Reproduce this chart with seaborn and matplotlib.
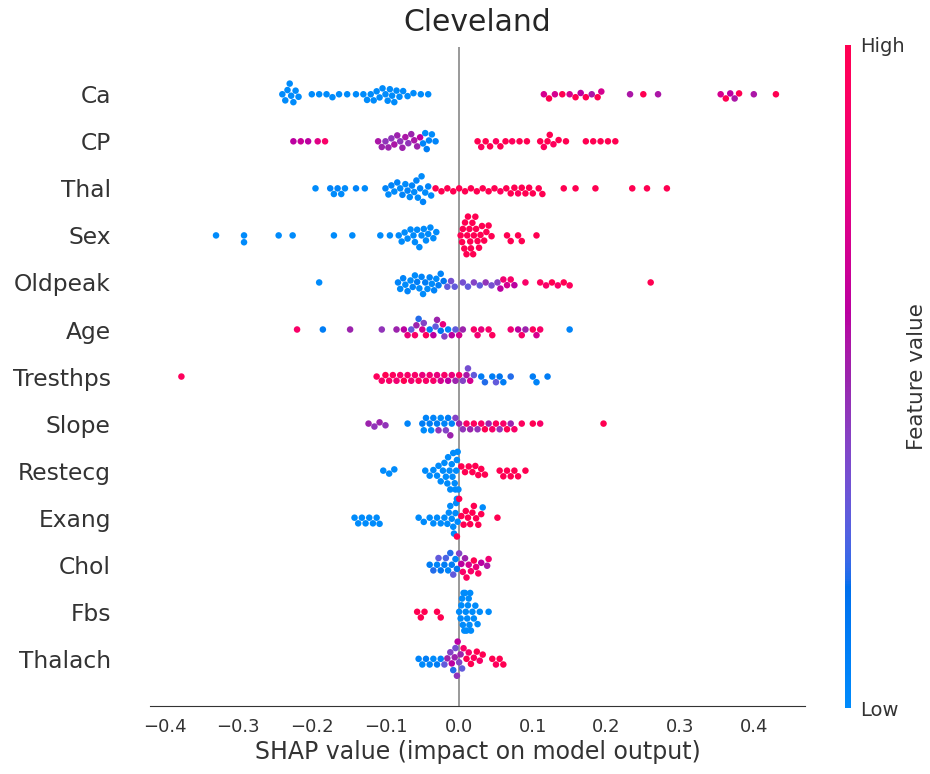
import warnings
warnings.filterwarnings("ignore")
import numpy as np
import pandas as pd
import matplotlib
matplotlib.use("Agg")
import matplotlib.pyplot as plt
import matplotlib.cm as cm
from matplotlib.colors import LinearSegmentedColormap, Normalize
import seaborn as sns

# ---------------- data: (SHAP value, normalised feature value) ----------------
features = ["Ca", "CP", "Thal", "Sex", "Oldpeak", "Age", "Tresthps", "Slope",
            "Restecg", "Exang", "Chol", "Fbs", "Thalach"]

ca = [(-0.240, 0.0), (-0.236, 0.0), (-0.233, 0.0), (-0.230, 0.0), (-0.228, 0.0), (-0.225, 0.0),
      (-0.222, 0.0), (-0.218, 0.0), (-0.200, 0.0), (-0.190, 0.0), (-0.180, 0.0), (-0.172, 0.0),
      (-0.163, 0.0), (-0.152, 0.0), (-0.140, 0.0), (-0.130, 0.0), (-0.125, 0.0), (-0.120, 0.0),
      (-0.116, 0.0), (-0.112, 0.0), (-0.108, 0.0), (-0.104, 0.0), (-0.100, 0.0), (-0.097, 0.0),
      (-0.094, 0.0), (-0.091, 0.0), (-0.088, 0.0), (-0.085, 0.0), (-0.081, 0.0), (-0.076, 0.0),
      (-0.070, 0.0), (-0.062, 0.0), (-0.052, 0.0), (-0.042, 0.0),
      (0.115, 0.7), (0.122, 1.0), (0.130, 0.7), (0.140, 1.0), (0.150, 0.7), (0.158, 1.0),
      (0.165, 0.6), (0.172, 1.0), (0.180, 0.55), (0.188, 1.0), (0.193, 0.7), (0.232, 0.55),
      (0.250, 1.0), (0.270, 0.55), (0.355, 0.7), (0.362, 1.0), (0.368, 0.6), (0.374, 0.55),
      (0.380, 1.0), (0.400, 0.55), (0.430, 1.0)]

cp = [(-0.225, 0.6), (-0.215, 0.65), (-0.205, 0.6), (-0.192, 0.75), (-0.182, 0.9),
      (-0.110, 0.55), (-0.105, 0.5), (-0.100, 0.45), (-0.096, 0.5), (-0.092, 0.45), (-0.088, 0.55),
      (-0.084, 0.5), (-0.080, 0.45), (-0.077, 0.5), (-0.073, 0.55), (-0.069, 0.45), (-0.065, 0.5),
      (-0.061, 0.55), (-0.057, 0.5), (-0.053, 0.6), (-0.049, 0.05), (-0.046, 0.0), (-0.044, 0.1),
      (-0.041, 0.05), (-0.037, 0.0), (-0.032, 0.05),
      (0.025, 1.0), (0.030, 0.95), (0.036, 1.0), (0.042, 1.0), (0.050, 0.95), (0.056, 1.0),
      (0.063, 1.0), (0.072, 0.95), (0.082, 1.0), (0.092, 1.0), (0.110, 1.0), (0.115, 0.95),
      (0.120, 1.0), (0.123, 1.0), (0.128, 0.95), (0.135, 1.0), (0.145, 1.0), (0.172, 1.0),
      (0.182, 1.0), (0.192, 1.0), (0.202, 1.0), (0.212, 1.0)]

thal = [(-0.195, 0.0), (-0.175, 0.05), (-0.170, 0.0), (-0.165, 0.05), (-0.160, 0.0), (-0.155, 0.0),
        (-0.140, 0.05), (-0.128, 0.0), (-0.100, 0.05), (-0.096, 0.0), (-0.092, 0.05), (-0.088, 0.0),
        (-0.084, 0.05), (-0.080, 0.0), (-0.077, 0.05), (-0.073, 0.0), (-0.070, 0.05), (-0.067, 0.0),
        (-0.064, 0.05), (-0.061, 0.0), (-0.058, 0.05), (-0.056, 0.0), (-0.053, 0.05), (-0.051, 0.0),
        (-0.049, 0.05), (-0.046, 0.0), (-0.042, 0.05), (-0.038, 0.0),
        (-0.032, 1.0), (-0.024, 1.0), (-0.016, 1.0), (-0.008, 1.0), (0.000, 1.0), (0.008, 1.0),
        (0.016, 1.0), (0.024, 1.0), (0.032, 1.0), (0.040, 1.0), (0.048, 1.0), (0.056, 0.95),
        (0.064, 1.0), (0.070, 1.0), (0.075, 1.0), (0.080, 0.95), (0.085, 1.0), (0.090, 1.0),
        (0.095, 1.0), (0.100, 1.0), (0.108, 1.0), (0.113, 1.0), (0.142, 1.0), (0.158, 1.0),
        (0.185, 1.0), (0.235, 1.0), (0.255, 1.0), (0.282, 1.0)]

sex = [(-0.330, 0.0), (-0.292, 0.0), (-0.292, 0.0), (-0.245, 0.0), (-0.226, 0.0), (-0.170, 0.0),
       (-0.145, 0.0), (-0.107, 0.0), (-0.094, 0.0), (-0.082, 0.0), (-0.078, 0.0), (-0.074, 0.0),
       (-0.070, 0.0), (-0.066, 0.0), (-0.062, 0.0), (-0.060, 0.0), (-0.057, 0.0), (-0.054, 0.0),
       (-0.051, 0.0), (-0.048, 0.0), (-0.045, 0.0), (-0.042, 0.0), (-0.039, 0.0), (-0.035, 0.0),
       (-0.031, 0.0),
       (0.002, 1.0), (0.004, 1.0), (0.005, 1.0), (0.007, 1.0), (0.008, 1.0), (0.010, 1.0),
       (0.011, 1.0), (0.012, 1.0), (0.014, 1.0), (0.015, 1.0), (0.016, 1.0), (0.018, 1.0),
       (0.019, 1.0), (0.020, 1.0), (0.022, 1.0), (0.023, 1.0), (0.025, 1.0), (0.027, 1.0),
       (0.029, 1.0), (0.031, 1.0), (0.034, 1.0), (0.037, 1.0), (0.040, 1.0), (0.044, 1.0),
       (0.065, 1.0), (0.070, 1.0), (0.080, 1.0), (0.085, 1.0), (0.105, 1.0)]

oldpeak = [(-0.190, 0.0), (-0.083, 0.05), (-0.080, 0.0), (-0.076, 0.05), (-0.073, 0.0), (-0.070, 0.05),
           (-0.066, 0.0), (-0.063, 0.05), (-0.060, 0.0), (-0.057, 0.1), (-0.054, 0.0), (-0.051, 0.05),
           (-0.049, 0.0), (-0.046, 0.1), (-0.043, 0.0), (-0.040, 0.05), (-0.037, 0.0), (-0.034, 0.05),
           (-0.031, 0.0), (-0.028, 0.1), (-0.025, 0.05), (-0.021, 0.15), (-0.016, 0.3), (-0.011, 0.35),
           (-0.006, 0.3), (0.005, 0.35), (0.012, 0.3), (0.020, 0.4), (0.028, 0.3), (0.036, 0.45),
           (0.044, 0.35), (0.052, 0.4), (0.056, 0.6), (0.060, 0.85), (0.065, 0.7), (0.070, 0.9),
           (0.075, 0.6), (0.090, 0.9), (0.110, 0.95), (0.118, 0.9), (0.126, 1.0), (0.134, 0.9),
           (0.142, 1.0), (0.150, 0.95), (0.260, 1.0)]

age = [(-0.220, 0.9), (-0.185, 0.1), (-0.148, 0.5), (-0.105, 0.45), (-0.085, 0.5), (-0.075, 0.6),
       (-0.070, 0.8), (-0.065, 0.3), (-0.060, 0.9), (-0.058, 0.5), (-0.055, 0.2), (-0.050, 0.7),
       (-0.048, 0.4), (-0.045, 0.95), (-0.040, 0.1), (-0.035, 0.6), (-0.032, 0.3), (-0.030, 0.5),
       (-0.025, 0.15), (-0.022, 0.8), (-0.020, 0.4), (-0.015, 0.05), (-0.010, 0.6), (-0.005, 0.3),
       (0.000, 0.7), (0.005, 0.5), (0.020, 0.9), (0.025, 0.85), (0.030, 0.8), (0.040, 0.9),
       (0.045, 0.95), (0.070, 0.85), (0.080, 0.6), (0.085, 0.9), (0.090, 0.5), (0.100, 0.95),
       (0.105, 0.7), (0.110, 0.9), (0.150, 0.05)]

tresthps = [(-0.377, 0.95), (-0.112, 0.95), (-0.105, 0.9), (-0.100, 1.0), (-0.095, 0.9), (-0.090, 0.95),
            (-0.085, 0.85), (-0.080, 0.9), (-0.075, 1.0), (-0.070, 0.9), (-0.065, 0.85), (-0.060, 0.9),
            (-0.055, 0.95), (-0.050, 0.8), (-0.045, 0.9), (-0.040, 0.85), (-0.035, 0.9), (-0.030, 0.8),
            (-0.025, 0.7), (-0.020, 0.9), (-0.015, 0.6), (-0.010, 0.8), (-0.005, 0.5), (0.000, 0.9),
            (0.005, 0.4), (0.010, 0.55), (0.012, 0.35), (0.015, 0.7), (0.020, 0.3), (0.030, 0.1),
            (0.035, 0.2), (0.045, 0.1), (0.050, 0.3), (0.055, 0.15), (0.060, 0.1), (0.070, 0.2),
            (0.100, 0.1), (0.105, 0.05), (0.120, 0.1)]

slope = [(-0.123, 0.5), (-0.115, 0.45), (-0.108, 0.5), (-0.100, 0.45), (-0.070, 0.05), (-0.050, 0.1),
         (-0.048, 0.0), (-0.045, 0.05), (-0.040, 0.1), (-0.038, 0.0), (-0.035, 0.05), (-0.030, 0.1),
         (-0.028, 0.45), (-0.025, 0.0), (-0.020, 0.05), (-0.018, 0.4), (-0.015, 0.1), (-0.012, 0.5),
         (-0.010, 0.05), (-0.005, 0.4), (0.000, 0.5), (0.005, 0.45), (0.010, 0.9), (0.015, 0.5),
         (0.020, 0.95), (0.025, 0.45), (0.030, 0.9), (0.035, 1.0), (0.040, 0.5), (0.045, 0.9),
         (0.050, 0.95), (0.055, 0.45), (0.060, 0.9), (0.065, 1.0), (0.070, 0.5), (0.075, 0.9),
         (0.085, 0.95), (0.100, 1.0), (0.110, 0.9), (0.196, 1.0)]

restecg = [(-0.103, 0.0), (-0.095, 0.0), (-0.088, 0.0), (-0.046, 0.0), (-0.040, 0.0), (-0.035, 0.0),
           (-0.030, 0.0), (-0.028, 0.0), (-0.025, 0.0), (-0.022, 0.0), (-0.020, 0.0), (-0.018, 0.0),
           (-0.016, 0.0), (-0.015, 0.0), (-0.013, 0.0), (-0.012, 0.0), (-0.010, 0.0), (-0.009, 0.0),
           (-0.008, 0.0), (-0.006, 0.0), (-0.005, 0.0), (-0.004, 0.0), (-0.003, 0.0), (-0.002, 0.0),
           (-0.001, 0.0), (0.003, 1.0), (0.008, 1.0), (0.013, 1.0), (0.018, 1.0), (0.022, 1.0),
           (0.026, 1.0), (0.030, 1.0), (0.035, 1.0), (0.055, 1.0), (0.060, 1.0), (0.065, 1.0),
           (0.070, 1.0), (0.075, 1.0), (0.080, 1.0), (0.090, 1.0)]

exang = [(-0.142, 0.0), (-0.137, 0.0), (-0.132, 0.0), (-0.127, 0.0), (-0.122, 0.0), (-0.117, 0.0),
         (-0.112, 0.0), (-0.108, 0.0), (-0.055, 0.0), (-0.048, 0.0), (-0.040, 0.0), (-0.035, 0.0),
         (-0.030, 0.0), (-0.025, 0.0), (-0.020, 0.0), (-0.016, 0.0), (-0.014, 0.0), (-0.012, 0.0),
         (-0.010, 0.0), (-0.008, 0.0), (-0.007, 0.0), (-0.005, 0.0), (-0.004, 0.0), (-0.003, 0.0),
         (-0.002, 0.0), (-0.003, 1.0), (0.000, 1.0), (0.003, 1.0), (0.006, 1.0), (0.009, 1.0),
         (0.012, 1.0), (0.015, 1.0), (0.018, 1.0), (0.020, 1.0), (0.023, 1.0), (0.026, 1.0),
         (0.030, 1.0), (0.032, 0.0), (0.052, 1.0)]

chol = [(-0.040, 0.1), (-0.035, 0.2), (-0.030, 0.05), (-0.028, 0.3), (-0.025, 0.15), (-0.020, 0.1),
        (-0.018, 0.25), (-0.015, 0.05), (-0.012, 0.2), (-0.010, 0.1), (-0.008, 0.3), (-0.005, 0.05),
        (-0.003, 0.15), (0.000, 0.4), (0.003, 0.6), (0.005, 0.9), (0.008, 0.5), (0.010, 0.95),
        (0.013, 0.7), (0.016, 0.9), (0.020, 1.0), (0.023, 0.8), (0.026, 0.95), (0.030, 0.6),
        (0.038, 0.55), (0.040, 0.85)]

fbs = [(-0.057, 1.0), (-0.052, 1.0), (-0.047, 1.0), (-0.030, 1.0), (-0.025, 1.0),
       (0.000, 0.0), (0.002, 0.0), (0.003, 0.0), (0.004, 0.0), (0.005, 0.0), (0.006, 0.0),
       (0.007, 0.0), (0.008, 0.0), (0.009, 0.0), (0.010, 0.0), (0.011, 0.0), (0.012, 0.0),
       (0.013, 0.0), (0.014, 0.0), (0.015, 0.0), (0.016, 0.0), (0.018, 0.0), (0.020, 0.0),
       (0.022, 0.0), (0.025, 0.0), (0.028, 0.0), (0.040, 0.0)]

thalach = [(-0.055, 0.05), (-0.050, 0.0), (-0.045, 0.1), (-0.040, 0.05), (-0.035, 0.0), (-0.030, 0.1),
           (-0.025, 0.05), (-0.020, 0.3), (-0.016, 0.5), (-0.012, 0.4), (-0.010, 0.6), (-0.008, 0.2),
           (-0.006, 0.5), (-0.005, 0.35), (-0.003, 0.45), (-0.002, 0.6), (0.000, 0.4), (0.002, 0.5),
           (0.004, 0.3), (0.006, 0.9), (0.010, 1.0), (0.013, 0.9), (0.016, 1.0), (0.020, 0.95),
           (0.024, 1.0), (0.028, 0.9), (0.032, 1.0), (0.045, 1.0), (0.050, 0.95), (0.055, 1.0),
           (0.060, 1.0)]

series = [ca, cp, thal, sex, oldpeak, age, tresthps, slope, restecg, exang, chol, fbs, thalach]

rows = []
for name, pts in zip(features, series):
    for s, v in pts:
        rows.append((name, s, v))
df = pd.DataFrame(rows, columns=["feature", "shap", "value"])

# ---------------- SHAP-like red/blue colormap (LCH interpolation) ----------------
def lch_to_rgb(L, C, H):
    a, b = C * np.cos(H), C * np.sin(H)
    fy = (L + 16) / 116.0
    fx, fz = fy + a / 500.0, fy - b / 200.0
    finv = lambda t: np.where(t > 6 / 29, t ** 3, 3 * (6 / 29) ** 2 * (t - 4 / 29))
    xyz = np.array([0.95047 * finv(fx), finv(fy), 1.08883 * finv(fz)])
    M = np.array([[3.2404542, -1.5371385, -0.4985314],
                  [-0.9692660, 1.8760108, 0.0415560],
                  [0.0556434, -0.2040259, 1.0572252]])
    rgb = M @ xyz
    rgb = np.where(rgb > 0.0031308, 1.055 * np.abs(rgb) ** (1 / 2.4) - 0.055, 12.92 * rgb)
    return np.clip(rgb, 0, 1)

blue_lch = (54.0, 70.0, 4.6588)
red_lch = (54.0, 90.0, 0.35470565 + 2 * np.pi)
l_mid = 40.0
n = 100
l_vals = list(np.linspace(blue_lch[0], l_mid, n // 2)) + list(np.linspace(l_mid, red_lch[0], n // 2))
c_vals = np.linspace(blue_lch[1], red_lch[1], n)
h_vals = np.linspace(blue_lch[2], red_lch[2], n)
cols = [lch_to_rgb(l, c, h) for l, c, h in zip(l_vals, c_vals, h_vals)]
cmap = LinearSegmentedColormap.from_list("red_blue", cols)

# ---------------- plot ----------------
sns.set_style("white")
plt.rcParams["font.family"] = ["DejaVu Sans"]
axis_color = "#333333"

fig = plt.figure(figsize=(9.3, 7.74), dpi=100)
ax = fig.add_axes([0.161, 0.088, 0.705, 0.851])
ax.axvline(0, color="#999999", lw=1.4, zorder=0)

sns.swarmplot(data=df, x="shap", y="feature", hue="value", order=features,
              palette=cmap, hue_norm=(0, 1), size=4.7, linewidth=0, legend=False,
              orient="h", ax=ax, zorder=3)

ax.set_ylim(len(features), -1)
ax.set_xlim(-0.42, 0.47)
ax.set_xticks([-0.4, -0.3, -0.2, -0.1, 0.0, 0.1, 0.2, 0.3, 0.4])
for sp in ["left", "top", "right"]:
    ax.spines[sp].set_visible(False)
ax.spines["bottom"].set_color(axis_color)
ax.tick_params(axis="y", length=0, labelsize=16.8, labelcolor=axis_color, pad=28)
ax.tick_params(axis="x", length=5, width=1, color=axis_color, labelsize=13,
               labelcolor=axis_color)
ax.set_ylabel("")
ax.set_xlabel("SHAP value (impact on model output)", fontsize=17, color=axis_color,
              labelpad=3)
ax.set_title("Cleveland", fontsize=21.5, pad=12)

cax = fig.add_axes([0.909, 0.085, 0.0065, 0.857])
sm = cm.ScalarMappable(norm=Normalize(0, 1), cmap=cmap)
cb = fig.colorbar(sm, cax=cax, ticks=[0, 1])
cb.set_ticklabels(["Low", "High"])
cb.outline.set_visible(False)
cax.tick_params(length=0, labelsize=14, labelcolor=axis_color, pad=6)
cb.set_label("Feature value", size=15.5, color=axis_color, labelpad=2)

fig.savefig("out.png", dpi=100, facecolor="white")
